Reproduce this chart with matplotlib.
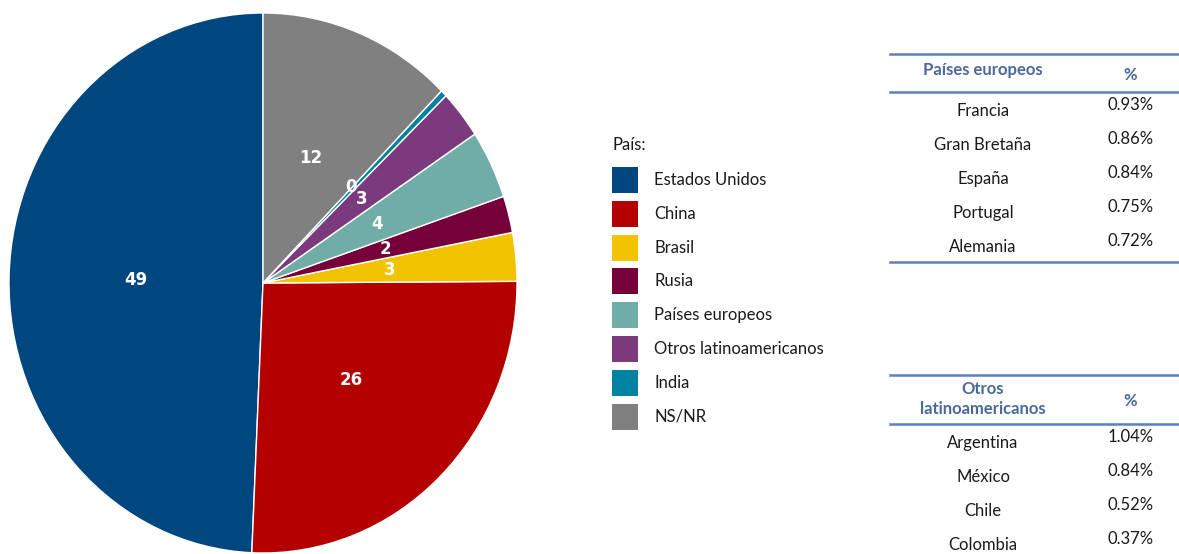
import matplotlib
matplotlib.use("Agg")
import matplotlib.pyplot as plt
from matplotlib.patches import Rectangle
from matplotlib.lines import Line2D

W, H = 1179, 554

# ---- data ----
paises = ["Estados Unidos", "China", "Brasil", "Rusia", "Países europeos",
          "Otros latinoamericanos", "India", "NS/NR"]
porcentajes = [49.3, 25.8, 2.9, 2.2, 4.1, 2.9, 0.4, 12.4]
colores = ["#00467f", "#b50000", "#f2c300", "#76003a", "#70ada6",
           "#7b3a7e", "#0082a0", "#808080"]

europa_paises = ["Francia", "Gran Bretaña", "España", "Portugal", "Alemania"]
europa_pct = ["0.93%", "0.86%", "0.84%", "0.75%", "0.72%"]

latam_paises = ["Argentina", "México", "Chile", "Colombia"]
latam_pct = ["1.04%", "0.84%", "0.52%", "0.37%"]

FONT = ["Lato", "DejaVu Sans"]
FS = 12
TEXT_COLOR = "#1a1a1a"
HEAD_COLOR = "#4a6a9c"
LINE_COLOR = "#5b7fbf"


def fx(x):
    return x / W


def fy(y):
    return 1 - y / H


fig = plt.figure(figsize=(W / 100, H / 100), dpi=100)

# ---- pie ----
ax = fig.add_axes([fx(9), fy(553), 508 / W, 540 / H])
wedges, texts, autotexts = ax.pie(
    porcentajes,
    colors=colores,
    startangle=90,
    counterclock=True,
    autopct="%.0f",
    pctdistance=0.5,
    wedgeprops={"edgecolor": "white", "linewidth": 1},
    textprops={"color": "white", "fontsize": 12, "fontweight": "bold",
               "family": ["DejaVu Sans"]},
)
# the tiny India label sits a bit higher than the Otros one
autotexts[6].set_position((0.345, 0.355))
ax.set_aspect("auto")
ax.set_xlim(-1, 1)
ax.set_ylim(-1, 1)
ax.axis("off")

# ---- legend ----
fig.text(fx(612), fy(145), "País:", fontsize=FS, family=FONT,
         color=TEXT_COLOR, ha="left", va="center")
for i, (name, col) in enumerate(zip(paises, colores)):
    yc = 180 + i * 33.8
    fig.patches.append(Rectangle((fx(612), fy(yc + 13)), 26 / W, 26 / H,
                                 transform=fig.transFigure, facecolor=col,
                                 edgecolor="none"))
    fig.text(fx(654), fy(yc), name, fontsize=FS, family=FONT,
             color=TEXT_COLOR, ha="left", va="center")


def hline(y, x0=890, x1=1179):
    fig.lines.append(Line2D([fx(x0), fx(x1)], [fy(y), fy(y)],
                            transform=fig.transFigure, color=LINE_COLOR,
                            linewidth=1.8))


# ---- table 1 ----
hline(54)
fig.text(fx(983), fy(70), "Países europeos", fontsize=FS, family=FONT,
         fontweight="bold", color=HEAD_COLOR, ha="center", va="center")
fig.text(fx(1130), fy(75), "%", fontsize=FS, family=FONT,
         fontweight="bold", color=HEAD_COLOR, ha="center", va="center")
hline(92)
for i, (name, val) in enumerate(zip(europa_paises, europa_pct)):
    y = 111 + i * 34
    fig.text(fx(983), fy(y), name, fontsize=FS, family=FONT,
             color=TEXT_COLOR, ha="center", va="center")
    fig.text(fx(1131), fy(y - 6), val, fontsize=FS, family=FONT,
             color=TEXT_COLOR, ha="center", va="center")
hline(262)

# ---- table 2 ----
hline(375)
fig.text(fx(983), fy(399), "Otros\nlatinoamericanos", fontsize=FS,
         family=FONT, fontweight="bold", color=HEAD_COLOR, ha="center",
         va="center", linespacing=1.25)
fig.text(fx(1130), fy(401), "%", fontsize=FS, family=FONT,
         fontweight="bold", color=HEAD_COLOR, ha="center", va="center")
hline(424)
for i, (name, val) in enumerate(zip(latam_paises, latam_pct)):
    y = 443 + i * 34
    fig.text(fx(983), fy(y), name, fontsize=FS, family=FONT,
             color=TEXT_COLOR, ha="center", va="center")
    fig.text(fx(1131), fy(y - 6), val, fontsize=FS, family=FONT,
             color=TEXT_COLOR, ha="center", va="center")

fig.savefig("out.png", dpi=100)
